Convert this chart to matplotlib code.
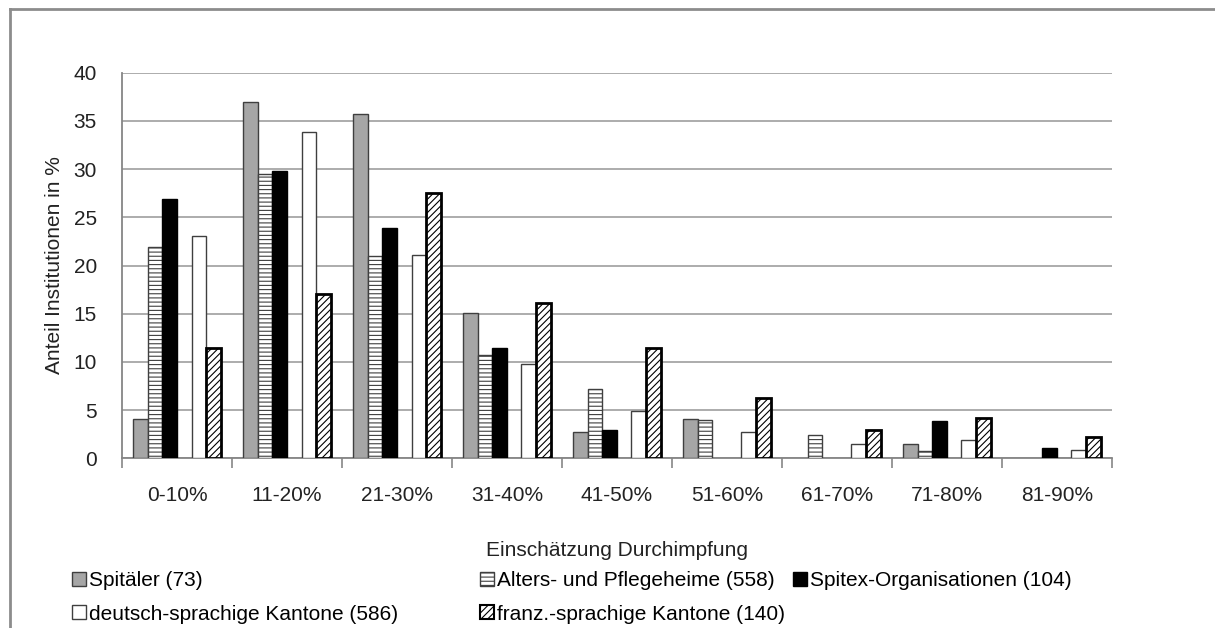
import matplotlib.pyplot as plt
import numpy as np
from matplotlib.patches import Patch
from matplotlib.lines import Line2D

plt.rcParams['font.family'] = ['Liberation Sans', 'DejaVu Sans']
plt.rcParams['hatch.linewidth'] = 0.8

# Werte (Anteil Institutionen in %)
categories = ['0-10%', '11-20%', '21-30%', '31-40%', '41-50%',
              '51-60%', '61-70%', '71-80%', '81-90%']
spitaeler = [4.1, 37.0, 35.7, 15.1, 2.7, 4.1, 0.0, 1.5, 0.0]
heime = [21.9, 29.5, 21.0, 10.7, 7.2, 4.0, 2.4, 0.8, 0.0]
spitex = [26.9, 29.8, 23.9, 11.4, 2.9, 0.0, 0.0, 3.9, 1.1]
deutsch = [23.1, 33.8, 21.1, 9.8, 4.9, 2.7, 1.5, 1.9, 0.9]
franz = [11.4, 17.0, 27.5, 16.1, 11.4, 6.3, 2.9, 4.2, 2.2]

labels = ['Spitäler (73)', 'Alters- und Pflegeheime (558)', 'Spitex-Organisationen (104)',
          'deutsch-sprachige Kantone (586)', 'franz.-sprachige Kantone (140)']

# Stil je Serie
styles = [
    dict(facecolor='#a6a6a6', edgecolor='#3f3f3f', hatch=None, linewidth=1.0),
    dict(facecolor='white', edgecolor='#3f3f3f', hatch='----', linewidth=1.0),
    dict(facecolor='black', edgecolor='black', hatch=None, linewidth=1.0),
    dict(facecolor='white', edgecolor='#3f3f3f', hatch=None, linewidth=1.0),
    dict(facecolor='white', edgecolor='black', hatch='/////', linewidth=2.0),
]
slots = [0, 1, 2, 4, 5]  # Slot 3 bleibt leer wie im Original

fs = 15
fig = plt.figure(figsize=(12.15, 6.28), dpi=100)
ax = fig.add_axes([0.1004, 0.2702, 0.8148, 0.614])

x = np.arange(len(categories))
w = 0.132
for vals, st, slot in zip([spitaeler, heime, spitex, deutsch, franz], styles, slots):
    vals = np.array(vals)
    mask = vals > 0
    ax.bar(x[mask] + (slot - 2.5) * w, vals[mask], width=w, zorder=3, **st)

ax.set_xlim(-0.5, len(categories) - 0.5)
ax.set_ylim(0, 40)
ax.set_yticks(np.arange(0, 41, 5))
ax.set_xticks(x)
ax.set_xticklabels(categories)
ax.set_xticks(np.arange(-0.5, len(categories), 1), minor=True)
ax.tick_params(axis='x', which='major', length=0, pad=20, labelsize=fs, colors='#222222')
ax.tick_params(axis='x', which='minor', length=7, color='#868686', width=1.2)
ax.tick_params(axis='y', length=0, pad=18, labelsize=fs, colors='#222222')
ax.yaxis.grid(True, color='#a6a6a6', linewidth=1.3)
ax.set_axisbelow(True)
for s in ['top', 'right']:
    ax.spines[s].set_visible(False)
for s in ['left', 'bottom']:
    ax.spines[s].set_color('#868686')
    ax.spines[s].set_linewidth(1.3)

ax.set_ylabel('Anteil Institutionen in %', fontsize=fs, labelpad=7, color='#222222')
ax.set_xlabel('Einschätzung Durchimpfung', fontsize=fs, labelpad=26, color='#222222')

handles = [Patch(label=l, **st) for l, st in zip(labels, styles)]
handles[4].set_linewidth(1.5)

# Legende in drei Spalten wie im Original
columns = [([0, 3], 72), ([1, 4], 480), ([2], 793)]
for idx, xpix in columns:
    fig.legend([handles[i] for i in idx], [labels[i] for i in idx],
               loc='upper left', bbox_to_anchor=(xpix / 1215, 1 - 571 / 628),
               frameon=False, fontsize=fs, handlelength=0.65, handleheight=0.65,
               handletextpad=0.15, labelspacing=0.7, borderaxespad=0, borderpad=0)

# Rahmen des Diagrammbereichs
fig.add_artist(Line2D([10 / 1215, 10 / 1215], [0, 1 - 9 / 628], transform=fig.transFigure,
                      color='#8c8c8c', linewidth=2))
fig.add_artist(Line2D([10 / 1215, 1], [1 - 9 / 628, 1 - 9 / 628], transform=fig.transFigure,
                      color='#8c8c8c', linewidth=2))

fig.savefig('out.png', dpi=100)
